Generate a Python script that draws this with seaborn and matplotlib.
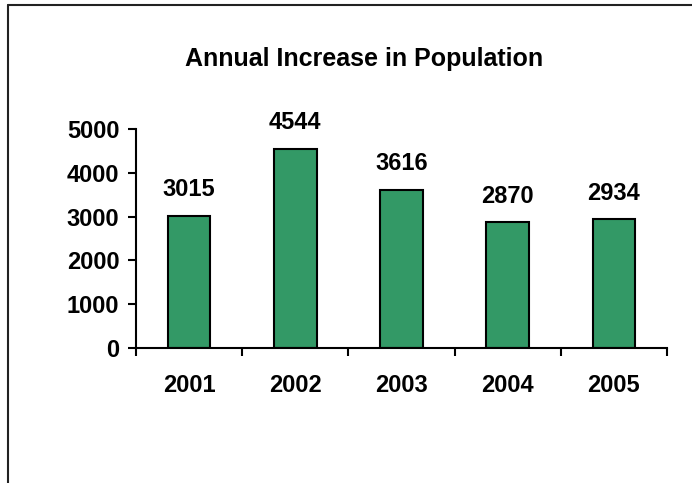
import matplotlib
matplotlib.use("Agg")
import matplotlib.pyplot as plt
import seaborn as sns
import pandas as pd
from matplotlib.lines import Line2D

years = ["2001", "2002", "2003", "2004", "2005"]
increase = [3015, 4544, 3616, 2870, 2934]
yticks = [0, 1000, 2000, 3000, 4000, 5000]

sns.set_style("white")
plt.rcParams["font.family"] = ["Liberation Sans", "DejaVu Sans"]
plt.rcParams["font.weight"] = "bold"
plt.rcParams["text.color"] = "black"
plt.rcParams["xtick.color"] = "black"
plt.rcParams["ytick.color"] = "black"
plt.rcParams["xtick.labelcolor"] = "black"
plt.rcParams["ytick.labelcolor"] = "black"

df = pd.DataFrame({"Year": years, "Increase": increase})

fig = plt.figure(figsize=(6.92, 4.83), dpi=100)
ax = fig.add_axes([136/692, 1 - 348/483, (667-136)/692, (348-129)/483])
sns.barplot(data=df, x="Year", y="Increase", color="#339966", width=0.4,
            edgecolor="black", linewidth=1.5, saturation=1, ax=ax)

ax.set_xlim(-0.5, 4.5)
ax.set_ylim(0, 5000)
ax.set_yticks(yticks)
ax.set_yticklabels([str(v) for v in yticks], fontsize=17, fontweight="bold", color="black")
ax.set_xlabel("")
ax.set_ylabel("")
ax.tick_params(axis="x", which="major", length=0, pad=19, labelsize=17, labelcolor="black")
for lbl in ax.get_xticklabels():
    lbl.set_fontweight("bold")
ax.set_xticks([i - 0.5 for i in range(len(years) + 1)], minor=True)
ax.tick_params(axis="x", which="minor", length=6, width=1.5, direction="out", color="black")
ax.tick_params(axis="y", length=6, width=1.5, direction="out", color="black", pad=6)
ax.yaxis.set_ticks_position("left")
ax.xaxis.set_ticks_position("bottom")

for s in ["top", "right"]:
    ax.spines[s].set_visible(False)
for s in ["left", "bottom"]:
    ax.spines[s].set_linewidth(1.5)
    ax.spines[s].set_color("black")

for i, v in enumerate(increase):
    ax.annotate(str(v), (i, v), xytext=(0, 10.5), textcoords="offset points",
                ha="center", va="bottom", fontsize=17, fontweight="bold", color="black")

fig.text(364/692, 1 - 59/483, "Annual Increase in Population", ha="center", va="center",
         fontsize=18, fontweight="bold", color="black")

fig.add_artist(Line2D([8/692, 8/692], [0, 1 - 5/483], transform=fig.transFigure, color="#222222", lw=1.5))
fig.add_artist(Line2D([8/692, 1], [1 - 5/483, 1 - 5/483], transform=fig.transFigure, color="#222222", lw=1.5))

fig.savefig("out.png", dpi=100)
